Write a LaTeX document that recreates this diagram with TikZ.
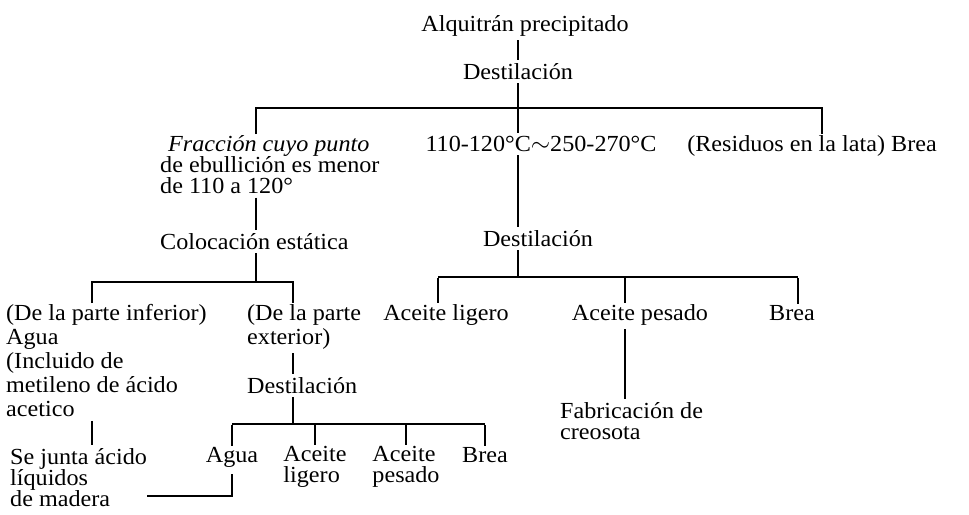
\documentclass[tikz,border=0pt]{standalone}
\usepackage{fontspec}
\setmainfont{Liberation Serif}[FakeStretch=1.05]
\usetikzlibrary{positioning,calc}

\begin{document}
\begin{tikzpicture}[x=1pt,y=-1pt,
  txt/.style={inner sep=0pt, font=\fontsize{23}{21}\selectfont},
  blk/.style={txt, align=left, anchor=north west},
  wire/.style={line width=1.4pt, shorten <=4pt, shorten >=3pt},
  drop/.style={line width=1.4pt, shorten <=1pt, shorten >=1pt}]
  \useasboundingbox[fill=white] (0,0) rectangle (969,514);
  \def\lw{1.4pt} % width of the bus lines
  % top of the tree
  \node[txt, anchor=base] (ttl) at (525,31) {Alquitrán precipitado};
  \node[txt, anchor=base] (dst1) at (518,79) {Destilación};
  \node[blk] (frac) at (160,135) {\hspace*{8pt}\textit{Fracción cuyo punto}\\de ebullición es menor\\de 110 a 120°};
  \node[txt, anchor=base] (mid) at (541,151) {110-120°C$\sim$250-270°C};
  \node[txt, anchor=base] (res) at (812,151) {(Residuos en la lata) Brea};
  % left branch
  \node[txt, anchor=base west] (col) at (160,249) {Colocación estática};
  \node[blk, font=\fontsize{23}{24}\selectfont] (inf) at (6,304) {(De la parte inferior)\\Agua\\(Incluido de\\metileno de ácido\\acetico};
  \node[blk, font=\fontsize{23}{24}\selectfont] (ext) at (247,304) {(De la parte\\exterior)};
  \node[txt, anchor=base west] (dst3) at (247,393) {Destilación};
  \node[blk] (sej) at (10,448) {Se junta ácido\\líquidos\\de madera};
  \node[txt, anchor=base] (agua) at (232,462) {Agua};
  \node[txt, align=left, anchor=north] (lig) at (315,446) {Aceite\\ligero};
  \node[txt, align=left, anchor=north] (pes) at (406,446) {Aceite\\pesado};
  \node[txt, anchor=base] (brea1) at (485,462) {Brea};
  % middle branch
  \node[txt, anchor=base] (dst2) at (538,246) {Destilación};
  \node[txt, anchor=base] (al) at (446,320) {Aceite ligero};
  \node[txt, anchor=base] (ap) at (640,320) {Aceite pesado};
  \node[txt, anchor=base] (brea2) at (792,320) {Brea};
  \node[blk] (fab) at (560,402) {Fabricación de\\creosota};

  % bus corners
  \coordinate (b1) at (518,108);
  \coordinate (b1l) at (256,108);
  \coordinate (b1r) at (822,108);
  \coordinate (b2) at (256,282);
  \coordinate (b2l) at (92,282);
  \coordinate (b2r) at (293,282);
  \coordinate (b3) at (293,424);
  \coordinate (b4) at (518,277);
  \coordinate (b4l) at (438,277);
  \coordinate (b4r) at (798,277);
  \coordinate (d2) at (625,277);
  \coordinate (ret) at (147,496);

  % trunk
  \draw[wire] (ttl.south -| b1) -- (dst1.north -| b1);
  \draw[wire] (dst1.south -| b1) -- (mid.north -| b1);
  \draw[drop] (b1l |- frac.north) -- (b1l) -- (b1r) -- (b1r |- res.north);
  % left branch
  \draw[wire] (frac.south -| b1l) -- (col.north -| b1l);
  \draw[wire, shorten >=0pt] (col.south -| b2) -- (b2);
  \draw[drop] (b2l |- inf.north) -- (b2l) -- (b2r) -- (b2r |- ext.north);
  \draw[wire] (ext.south -| b2r) -- (dst3.north -| b2r);
  \draw[wire] (inf.south -| b2l) -- (sej.north -| b2l);
  \draw[wire, shorten >=0pt] (dst3.south -| b3) -- (b3);
  \draw[line width=\lw] (agua.north |- b3) -- (brea1.north |- b3);
  \foreach \n in {agua,lig,pes,brea1} {
    \draw[drop] (\n.north |- b3) -- (\n.north);
  }
  \draw[drop, shorten <=7pt, shorten >=0pt] (agua.south) |- (ret);
  % middle branch
  \draw[wire] (mid.south -| b1) -- (dst2.north -| b1);
  \draw[wire, shorten >=0pt] (dst2.south -| b4) -- (b4);
  \draw[line width=\lw] (b4l) -- (b4r);
  \foreach \n/\x in {al/438,ap/625,brea2/798} {
    \coordinate (d) at (\x,277);
    \draw[drop] (d) -- (d |- \n.north);
  }
  \draw[wire] (ap.south -| d2) -- (fab.north -| d2);
\end{tikzpicture}
\end{document}
